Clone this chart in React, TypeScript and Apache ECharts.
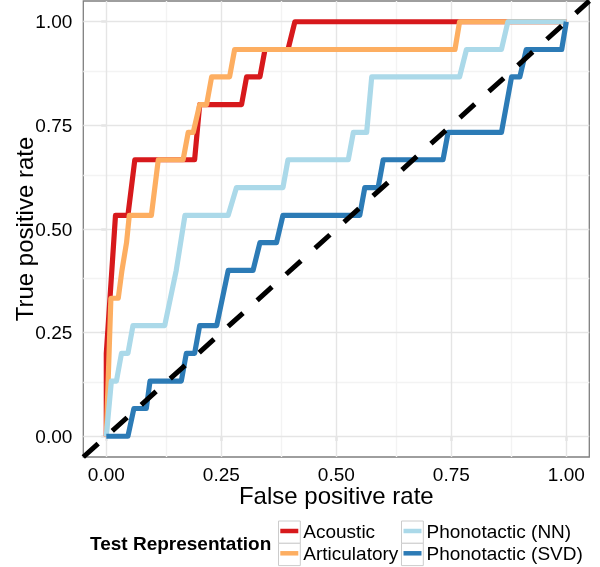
import React, { useEffect, useRef } from "react";
import * as echarts from "echarts";

const seriesNames = ["Acoustic", "Articulatory", "Phonotactic (NN)", "Phonotactic (SVD)"];
const seriesColors = ["#d7191c", "#fdae61", "#abd9e9", "#2c7bb6"];

const acousticFpr = [0, 0, 0.02, 0.047, 0.062, 0.192, 0.203, 0.294, 0.305, 0.334, 0.345, 0.395, 0.41, 1];
const acousticTpr = [0, 0.2, 0.533, 0.533, 0.667, 0.667, 0.8, 0.8, 0.867, 0.867, 0.933, 0.933, 1, 1];

const articFpr = [0, 0.01, 0.026, 0.034, 0.044, 0.05, 0.098, 0.113, 0.167, 0.178, 0.189, 0.203, 0.218, 0.229, 0.268, 0.279, 0.758, 0.768, 1];
const articTpr = [0, 0.333, 0.333, 0.4, 0.467, 0.533, 0.533, 0.667, 0.667, 0.733, 0.733, 0.8, 0.8, 0.867, 0.867, 0.933, 0.933, 1, 1];

const nnFpr = [0, 0.011, 0.022, 0.033, 0.047, 0.058, 0.127, 0.152, 0.171, 0.265, 0.283, 0.384, 0.395, 0.526, 0.537, 0.566, 0.577, 0.768, 0.783, 0.859, 0.873, 1];
const nnTpr = [0, 0.133, 0.133, 0.2, 0.2, 0.267, 0.267, 0.4, 0.533, 0.533, 0.6, 0.6, 0.667, 0.667, 0.733, 0.733, 0.867, 0.867, 0.933, 0.933, 1, 1];

const svdFpr = [0, 0.047, 0.06, 0.087, 0.095, 0.163, 0.174, 0.192, 0.203, 0.24, 0.265, 0.319, 0.334, 0.37, 0.384, 0.551, 0.562, 0.591, 0.602, 0.732, 0.743, 0.859, 0.881, 0.899, 0.913, 0.99, 1];
const svdTpr = [0, 0, 0.067, 0.067, 0.133, 0.133, 0.2, 0.2, 0.267, 0.267, 0.4, 0.4, 0.467, 0.467, 0.533, 0.533, 0.6, 0.6, 0.667, 0.667, 0.733, 0.733, 0.867, 0.867, 0.933, 0.933, 1];

const diagonal = [-0.05, 1.05];
const majorTicks = [0, 0.25, 0.5, 0.75, 1];
const minorTicks = [0.125, 0.375, 0.625, 0.875];

const FONT = "'Liberation Sans', Arial, Helvetica, sans-serif";

function pairs(xs: number[], ys: number[]) {
  return xs.map((x, i) => [x, ys[i]]);
}

export default function App() {
  const ref = useRef<HTMLDivElement>(null);
  useEffect(() => {
    if (!ref.current) return;
    const chart = echarts.init(ref.current, undefined, { renderer: "svg" });
    const curves = [
      pairs(acousticFpr, acousticTpr),
      pairs(articFpr, articTpr),
      pairs(nnFpr, nnTpr),
      pairs(svdFpr, svdTpr),
    ];
    const gridLineSeries = (vals: number[], color: string, name: string) => ({
      type: "line",
      name,
      data: [],
      silent: true,
      z: 1,
      markLine: {
        silent: true,
        z: 1,
        symbol: ["none", "none"],
        label: { show: false },
        emphasis: { disabled: true },
        animation: false,
        lineStyle: { color, width: 1.4, type: "solid" },
        data: [...vals.map((v) => ({ xAxis: v })), ...vals.map((v) => ({ yAxis: v }))],
      },
    });
    const axisCommon = {
      type: "value",
      min: -0.05,
      max: 1.05,
      axisLine: { show: false },
      splitLine: { show: false },
      axisTick: {
        show: true,
        customValues: majorTicks,
        length: 5,
        lineStyle: { color: "#333", width: 1.2 },
      },
      axisLabel: {
        customValues: majorTicks,
        formatter: (v: number) => v.toFixed(2),
        fontSize: 19,
        lineHeight: 16,
        color: "#000",
        fontFamily: FONT,
        margin: 9,
      },
      nameLocation: "middle",
      nameMoveOverlap: false,
      nameTextStyle: { fontSize: 24, lineHeight: 20, color: "#000", fontFamily: FONT },
    };
    const legendCommon = {
      orient: "vertical",
      top: 521.5,
      itemWidth: 18,
      itemHeight: 4.5,
      itemGap: 3.3,
      icon: "rect",
      padding: 0,
      selectedMode: false,
      itemStyle: { borderWidth: 0 },
      textStyle: { fontSize: 19, color: "#000", fontFamily: FONT, padding: [0, 0, 0, 0] },
    };
    const keyBoxes: any[] = [];
    [278.5, 401.5].forEach((x) => {
      [521, 543.3].forEach((y) => {
        keyBoxes.push({
          type: "rect",
          z: 0,
          shape: { x, y, width: 21.8, height: 22.3 },
          style: { fill: "#ffffff", stroke: "#cccccc", lineWidth: 1 },
        });
      });
    });
    chart.setOption({
      animation: false,
      textStyle: { fontFamily: FONT },
      grid: {
        left: 83.3,
        right: 10.7,
        top: 1,
        bottom: 110,
        containLabel: false,
        outerBoundsMode: "none",
        show: true,
        backgroundColor: "#ffffff",
        borderColor: "#7f7f7f",
        borderWidth: 1.3,
      },
      xAxis: { ...axisCommon, name: "False positive rate", nameGap: 28 },
      yAxis: {
        ...axisCommon,
        name: "True positive rate",
        nameGap: 49,
        axisLabel: { ...axisCommon.axisLabel, margin: 11 },
      },
      legend: [
        { ...legendCommon, left: 280.3, data: seriesNames.slice(0, 2) },
        { ...legendCommon, left: 403.5, data: seriesNames.slice(2, 4) },
      ],
      graphic: [
        ...keyBoxes,
        {
          type: "text",
          x: 90,
          y: 543,
          z: 5,
          style: {
            text: "Test Representation",
            fontSize: 19,
            fontWeight: "bold",
            fontFamily: FONT,
            fill: "#000",
            verticalAlign: "middle",
          },
        },
      ],
      series: [
        gridLineSeries(minorTicks, "#f3f3f3", "minor"),
        gridLineSeries(majorTicks, "#e5e5e5", "major"),
        ...curves.map((d, i) => ({
          type: "line",
          name: seriesNames[i],
          data: d,
          color: seriesColors[i],
          showSymbol: false,
          symbol: "none",
          z: 2,
          lineStyle: { color: seriesColors[i], width: 5.2, cap: "butt", join: "round" },
          itemStyle: { color: seriesColors[i] },
        })),
        {
          type: "line",
          name: "diag",
          data: diagonal.map((v) => [v, v]),
          showSymbol: false,
          symbol: "none",
          z: 3,
          lineStyle: { color: "#000", width: 5, type: [20, 19], cap: "butt" },
        },
      ],
    });
    return () => chart.dispose();
  }, []);
  return <div ref={ref} style={{ position: "fixed", left: 0, top: 0, width: 600, height: 567 }} />;
}
